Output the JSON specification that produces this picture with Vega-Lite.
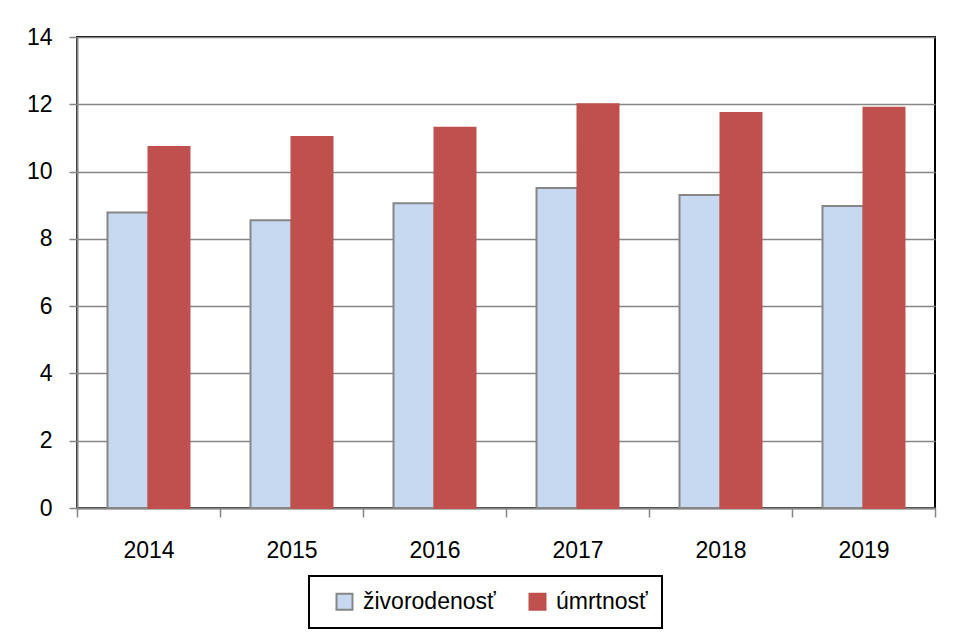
{
  "$schema": "https://vega.github.io/schema/vega-lite/v6.json",
  "autosize": "none",
  "width": 858,
  "height": 471,
  "padding": {"left": 77, "top": 37, "right": 25, "bottom": 135},
  "background": "white",
  "data": {
    "values": [
      {"rok": "2014", "ukazovatel": "živorodenosť", "hodnota": 8.78},
      {"rok": "2014", "ukazovatel": "úmrtnosť", "hodnota": 10.73},
      {"rok": "2015", "ukazovatel": "živorodenosť", "hodnota": 8.55},
      {"rok": "2015", "ukazovatel": "úmrtnosť", "hodnota": 11.03},
      {"rok": "2016", "ukazovatel": "živorodenosť", "hodnota": 9.06},
      {"rok": "2016", "ukazovatel": "úmrtnosť", "hodnota": 11.30},
      {"rok": "2017", "ukazovatel": "živorodenosť", "hodnota": 9.51},
      {"rok": "2017", "ukazovatel": "úmrtnosť", "hodnota": 12.0},
      {"rok": "2018", "ukazovatel": "živorodenosť", "hodnota": 9.30},
      {"rok": "2018", "ukazovatel": "úmrtnosť", "hodnota": 11.74},
      {"rok": "2019", "ukazovatel": "živorodenosť", "hodnota": 8.98},
      {"rok": "2019", "ukazovatel": "úmrtnosť", "hodnota": 11.90}
    ]
  },
  "mark": {"type": "bar", "strokeWidth": 2},
  "encoding": {
    "x": {
      "field": "rok",
      "type": "nominal",
      "scale": {"paddingInner": 0, "paddingOuter": 0},
      "axis": {
        "title": null,
        "labelAngle": 0,
        "tickBand": "extent",
        "domainColor": "#868686",
        "domainWidth": 2,
        "tickColor": "#868686",
        "tickWidth": 1.5,
        "tickSize": 9,
        "labelPadding": 22,
        "labelFont": "Liberation Sans",
        "labelFontSize": 23,
        "labelColor": "black"
      }
    },
    "xOffset": {
      "field": "ukazovatel",
      "type": "nominal",
      "sort": ["živorodenosť", "úmrtnosť"],
      "scale": {"paddingInner": 0, "paddingOuter": 0.744}
    },
    "y": {
      "field": "hodnota",
      "type": "quantitative",
      "scale": {"domain": [0, 14], "nice": false},
      "axis": {
        "title": null,
        "values": [0, 2, 4, 6, 8, 10, 12, 14],
        "grid": true,
        "gridColor": "#868686",
        "gridWidth": 1.5,
        "domainColor": "#868686",
        "domainWidth": 2,
        "tickColor": "#868686",
        "tickWidth": 1.5,
        "tickSize": 8,
        "labelPadding": 17,
        "labelFont": "Liberation Sans",
        "labelFontSize": 23,
        "labelColor": "black"
      }
    },
    "color": {
      "field": "ukazovatel",
      "type": "nominal",
      "sort": ["živorodenosť", "úmrtnosť"],
      "scale": {"domain": ["živorodenosť", "úmrtnosť"], "range": ["#C6D9F1", "#C0504D"]},
      "legend": {
        "title": null,
        "orient": "none",
        "direction": "horizontal",
        "legendX": 232,
        "legendY": 539,
        "padding": 14,
        "strokeColor": "black",
        "symbolType": "square",
        "symbolSize": 256,
        "symbolStrokeWidth": 2,
        "symbolOffset": 10,
        "labelOffset": 7,
        "columnPadding": 20,
        "labelFont": "Liberation Sans",
        "labelFontSize": 23,
        "labelColor": "black",
        "labelLimit": 300,
        "encode": {"legend": {"update": {"strokeWidth": {"value": 2}}}}
      }
    },
    "stroke": {
      "field": "ukazovatel",
      "type": "nominal",
      "sort": ["živorodenosť", "úmrtnosť"],
      "scale": {"domain": ["živorodenosť", "úmrtnosť"], "range": ["#868686", "#C0504D"]},
      "legend": {
        "title": null,
        "orient": "none",
        "direction": "horizontal",
        "legendX": 232,
        "legendY": 539,
        "padding": 14,
        "strokeColor": "black",
        "symbolType": "square",
        "symbolSize": 256,
        "symbolStrokeWidth": 2,
        "symbolOffset": 10,
        "labelOffset": 7,
        "columnPadding": 20,
        "labelFont": "Liberation Sans",
        "labelFontSize": 23,
        "labelColor": "black",
        "labelLimit": 300,
        "encode": {"legend": {"update": {"strokeWidth": {"value": 2}}}}
      }
    }
  },
  "config": {
    "view": {"stroke": "black", "strokeWidth": 2}
  }
}
